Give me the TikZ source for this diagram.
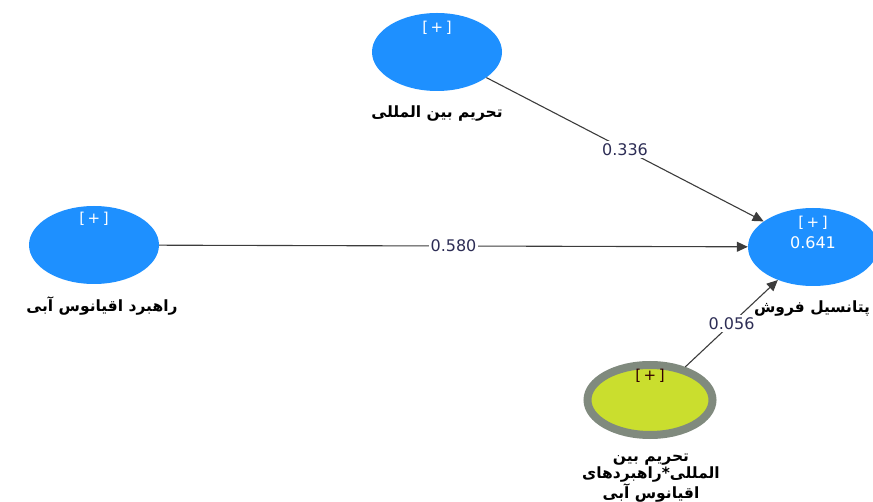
\documentclass[tikz,border=0pt]{standalone}
\usepackage{fontspec}
\setmainfont{DejaVu Sans}
\newfontfamily\farsi[Script=Arabic]{DejaVu Sans}
\TeXXeTstate=1
\usetikzlibrary{arrows.meta,shapes.geometric}

\definecolor{latentblue}{RGB}{30,144,255}
\definecolor{modyellow}{RGB}{202,222,46}
\definecolor{modring}{RGB}{128,138,126}
\definecolor{pathgray}{RGB}{60,60,60}
\definecolor{coefink}{RGB}{45,45,85}

\tikzset{
  latent/.style={ellipse, fill=latentblue, minimum width=130pt, minimum height=78pt, inner sep=0pt},
  moderator/.style={ellipse, fill=modyellow, draw=modring, line width=8pt, minimum width=125pt, minimum height=70pt, inner sep=0pt},
  plus/.style={font=\fontsize{15}{15}\selectfont, text=white, inner sep=0pt},
  rsq/.style={font=\fontsize{16}{16}\selectfont, text=white, inner sep=0pt},
  caption/.style={font=\farsi\bfseries\fontsize{15.5}{17}\selectfont, align=center, inner sep=0pt},
  coef/.style={font=\fontsize{16}{16}\selectfont, fill=white, inner sep=2pt, text=coefink},
  relation/.style={draw=pathgray, line width=1.1pt, -{Triangle[length=11pt,width=10pt]}}
}

\begin{document}
\begin{tikzpicture}[x=1pt,y=-1pt]
  \useasboundingbox (0,0) rectangle (873,502);

  %%%%% constructs %%%%%
  \node[latent] (sanction) at (437,52) {};
  \node[latent] (ocean) at (94,245) {};
  \node[latent] (sales) at (813,247) {};
  \node[moderator] (inter) at (650,400) {};

  \node[plus] (sanctionplus) at (437,28) {[\,+\,]};
  \node[plus] (oceanplus) at (94,219) {[\,+\,]};
  \node[plus] (salesplus) at (813,223) {[\,+\,]};
  \node[rsq] (salesrsq) at (813,243) {0.641};
  \node[plus, text=black!80!red] (interplus) at (650,376) {[\,+\,]};

  %%%%% captions %%%%%
  \node[caption] (sanctioncap) at (437,114) {\beginR تحریم بین المللی\endR};
  \node[caption] (oceancap) at (102,306) {\beginR راهبرد اقیانوس آبی\endR};
  \node[caption] (salescap) at (812,309) {\beginR پتانسیل فروش\endR};
  \node[caption] (intercap) at (651,478) {\beginR تحریم بین\endR\\ \beginR المللی*راهبردهای\endR\\ \beginR اقیانوس آبی\endR};

  %%%%% paths %%%%%
  \draw[relation] (sanction) -- node[coef] (c1) {0.336} (sales);
  \draw[relation] (ocean) -- node[coef] (c2) {0.580} (sales);
  \draw[relation] (inter) -- node[coef] (c3) {0.056} (sales);
\end{tikzpicture}
\end{document}
